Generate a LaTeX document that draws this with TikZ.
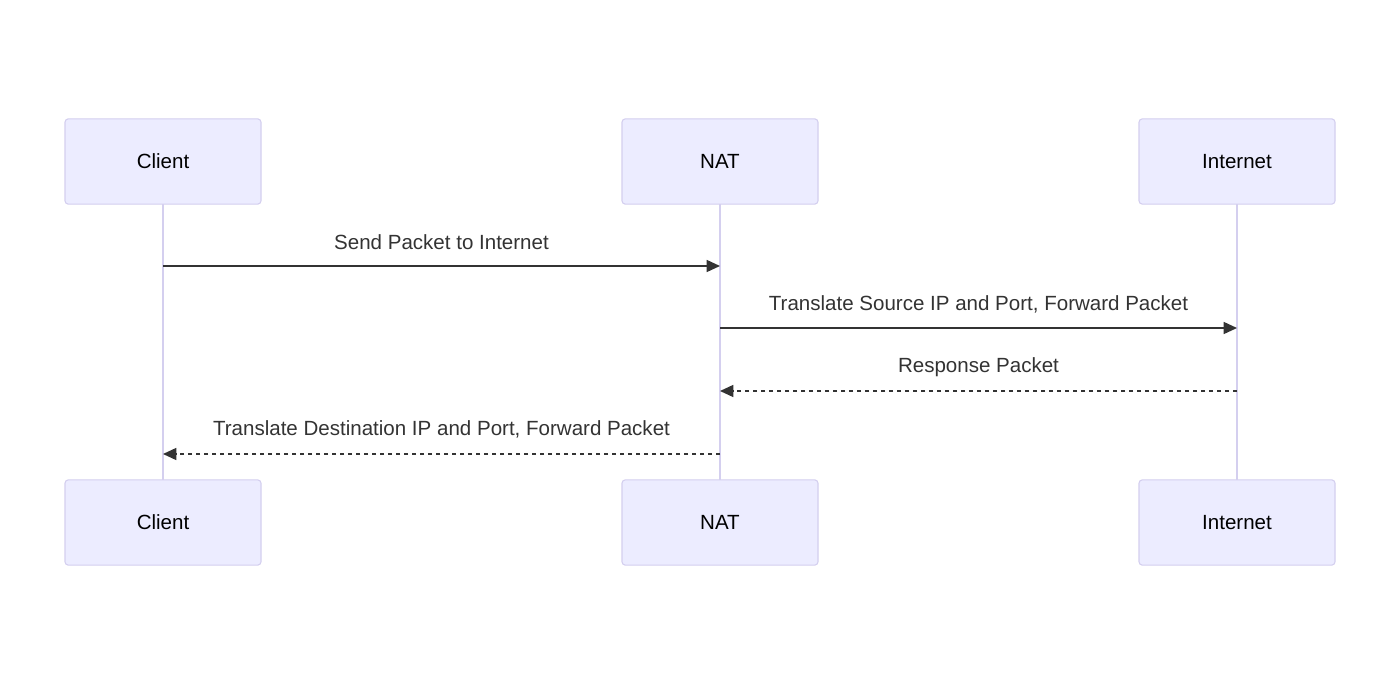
\documentclass[tikz,border=0pt]{standalone}
\usepackage{fontspec}
\setmainfont{Liberation Sans}
\usetikzlibrary{arrows.meta}
\definecolor{actfill}{HTML}{ECECFF}
\definecolor{actline}{HTML}{D4CFEF}
\definecolor{msg}{HTML}{333333}
\tikzset{
  actor/.style={draw=actline, fill=actfill, line width=0.8pt, rounded corners=2.5pt,
    minimum width=147pt, minimum height=64pt, inner sep=0pt, text=black,
    font=\fontsize{15.4}{18}\selectfont},
  lifeline/.style={draw=actline, line width=1.5pt},
  msgline/.style={draw=msg, line width=1.1pt, -{Triangle[length=10pt,width=9pt]}},
  dashmsg/.style={msgline, dash pattern=on 3pt off 3pt},
  lbl/.style={text=msg, font=\fontsize{15.4}{18}\selectfont, inner sep=0pt}
}
\begin{document}
\begin{tikzpicture}[x=0.75pt,y=-0.75pt]
\path[use as bounding box, fill=white] (0,0) rectangle (1400,685);
% lifelines
\coordinate (c1) at (163,204); \coordinate (c2) at (163,480);
\coordinate (n1) at (720,204); \coordinate (n2) at (720,480);
\coordinate (i1) at (1237,204); \coordinate (i2) at (1237,480);
\draw[lifeline] (c1) -- (c2);
\draw[lifeline] (n1) -- (n2);
\draw[lifeline] (i1) -- (i2);
% actors
\node[actor] (ct) at (163,161.5) {Client};
\node[actor] (nt) at (720,161.5) {NAT};
\node[actor] (it) at (1237,161.5) {Internet};
\node[actor] (cb) at (163,522.5) {Client};
\node[actor] (nb) at (720,522.5) {NAT};
\node[actor] (ib) at (1237,522.5) {Internet};
% messages
\coordinate (m1a) at (163,266); \coordinate (m1b) at (720,266);
\coordinate (m2a) at (720,328); \coordinate (m2b) at (1237,328);
\coordinate (m3a) at (1237,391); \coordinate (m3b) at (720,391);
\coordinate (m4a) at (720,454); \coordinate (m4b) at (163,454);
\draw[msgline] (m1a) -- (m1b);
\draw[msgline] (m2a) -- (m2b);
\draw[dashmsg] (m3a) -- (m3b);
\draw[dashmsg] (m4a) -- (m4b);
\node[lbl] (l1) at (441.5,242) {Send Packet to Internet};
\node[lbl] (l2) at (978.5,304) {Translate Source IP and Port, Forward Packet};
\node[lbl] (l3) at (978.5,367) {Response Packet};
\node[lbl] (l4) at (441.5,429) {Translate Destination IP and Port, Forward Packet};
\end{tikzpicture}
\end{document}
